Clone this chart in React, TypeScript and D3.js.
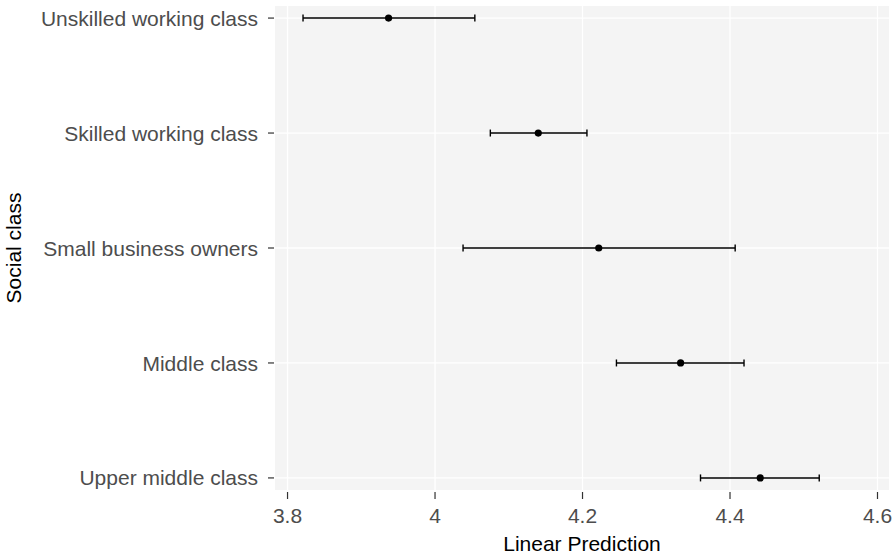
import React from "react";
import * as d3 from "d3";

const categories = [
  "Unskilled working class",
  "Skilled working class",
  "Small business owners",
  "Middle class",
  "Upper middle class",
];
const estimates = [3.937, 4.14, 4.222, 4.333, 4.441];
const lowers = [3.821, 4.075, 4.038, 4.246, 4.36];
const uppers = [4.054, 4.206, 4.407, 4.419, 4.521];
const xTicks = [3.8, 4.0, 4.2, 4.4, 4.6];
const xTickLabels = ["3.8", "4", "4.2", "4.4", "4.6"];

const W = 894;
const H = 556;
const left = 275;
const right = 889;
const top = 6;
const bottom = 490;
const FONT = "'Liberation Sans', Arial, Helvetica, sans-serif";

export default function App() {
  const x = d3.scaleLinear().domain([3.783, 4.6156]).range([left, right]);
  const y = d3.scalePoint<string>().domain(categories).range([top, bottom]).padding(0.105);

  return (
    <svg width={W} height={H} style={{ position: "absolute", left: 0, top: 0 }} fontFamily={FONT}>
      <rect x={left} y={top} width={right - left} height={bottom - top} fill="#f4f4f4" />
      {xTicks.map((t) => (
        <line key={"gx" + t} x1={x(t)} x2={x(t)} y1={top} y2={bottom} stroke="#ffffff" strokeWidth={1.3} />
      ))}
      {categories.map((c) => (
        <line key={"gy" + c} x1={left} x2={right} y1={y(c)} y2={y(c)} stroke="#ffffff" strokeWidth={1.3} />
      ))}
      {categories.map((c, i) => {
        const yy = y(c)!;
        return (
          <g key={"eb" + c} stroke="#000" strokeWidth={1.4}>
            <line x1={x(lowers[i])} x2={x(uppers[i])} y1={yy} y2={yy} />
            <line x1={x(lowers[i])} x2={x(lowers[i])} y1={yy - 3.5} y2={yy + 3.5} />
            <line x1={x(uppers[i])} x2={x(uppers[i])} y1={yy - 3.5} y2={yy + 3.5} />
            <circle cx={x(estimates[i])} cy={yy} r={3.6} fill="#000" stroke="none" />
          </g>
        );
      })}
      {categories.map((c) => {
        const yy = y(c)!;
        return (
          <g key={"yl" + c}>
            <line x1={268} x2={274} y1={yy} y2={yy} stroke="#333333" strokeWidth={1.2} />
            <text x={258} y={yy} dy="0.36em" textAnchor="end" fontSize={21} fill="#4d4d4d">
              {c}
            </text>
          </g>
        );
      })}
      {xTicks.map((t, i) => (
        <g key={"xl" + t}>
          <line x1={x(t)} x2={x(t)} y1={492} y2={499} stroke="#333333" strokeWidth={1.2} />
          <text x={x(t)} y={523} textAnchor="middle" fontSize={21} fill="#4d4d4d">
            {xTickLabels[i]}
          </text>
        </g>
      ))}
      <text x={(left + right) / 2} y={551} textAnchor="middle" fontSize={21} fill="#000">
        Linear Prediction
      </text>
      <text
        transform={`translate(21, ${(top + bottom) / 2}) rotate(-90)`}
        textAnchor="middle"
        fontSize={21}
        fill="#000"
      >
        Social class
      </text>
    </svg>
  );
}
